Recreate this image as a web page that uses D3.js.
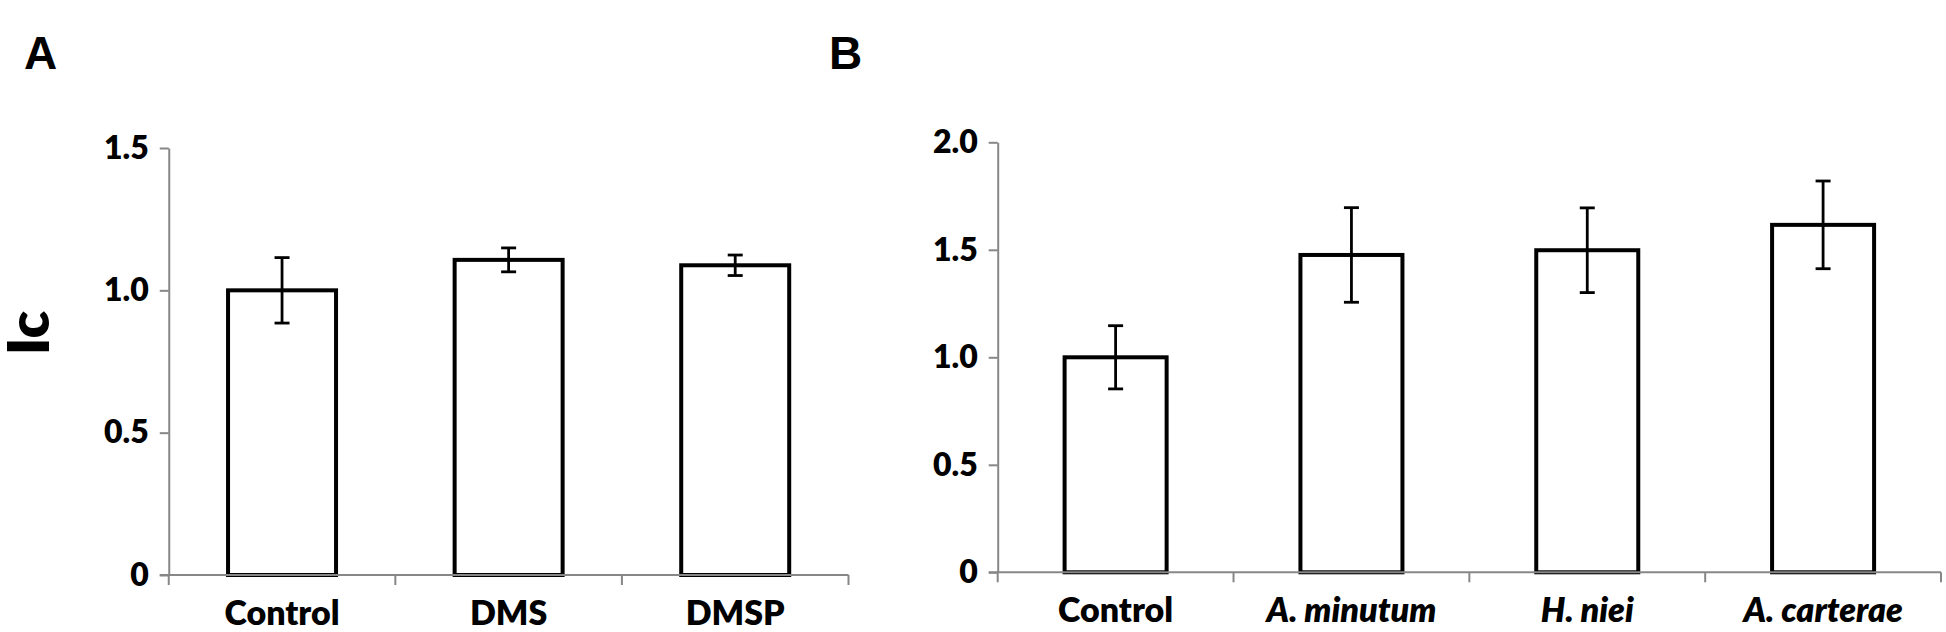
<!DOCTYPE html>
<html>
<head>
<meta charset="utf-8">
<script src="https://cdn.jsdelivr.net/npm/d3@7"></script>
<style>
  body { margin: 0; background: #fff; }
  svg { display: block; }
</style>
</head>
<body>
<div id="chart-container"></div>
<script>
// panel A data
const categoriesA = ["Control", "DMS", "DMSP"];
const valuesA = [1.0, 1.107, 1.088];
const errorsA = [0.115, 0.042, 0.036];
const ticksA = [0, 0.5, 1.0, 1.5];

// panel B data
const categoriesB = ["Control", "A. minutum", "H. niei", "A. carterae"];
const italicB = [false, true, true, true];
const valuesB = [1.0, 1.476, 1.498, 1.616];
const errorsB = [0.147, 0.22, 0.197, 0.204];
const ticksB = [0, 0.5, 1.0, 1.5, 2.0];

const chartWidth = 1946;
const chartHeight = 632;
const axisColor = "#878787";
const tickFont = "Lato, 'Open Sans', sans-serif";

const svg = d3.select("#chart-container").append("svg")
    .attr("width", chartWidth)
    .attr("height", chartHeight);

svg.append("rect")
    .attr("width", chartWidth)
    .attr("height", chartHeight)
    .attr("fill", "#fff");

/**
 * Draw one bar panel
 */
function drawPanel(opts) {
    const {categories, values, errors, ticks, italic, xRange, yRange, barRatio, letter, letterX} = opts;
    const pad = 1 - barRatio;

    const xScale = d3.scaleBand()
        .domain(categories)
        .range(xRange)
        .paddingInner(pad)
        .paddingOuter(pad / 2);

    const yScale = d3.scaleLinear()
        .domain([0, d3.max(ticks)])
        .range(yRange);

    const g = svg.append("g");

    // bars
    g.selectAll(".bar")
        .data(categories)
        .enter()
        .append("rect")
        .attr("class", "bar")
        .attr("x", d => xScale(d))
        .attr("y", (d, i) => yScale(values[i]))
        .attr("width", xScale.bandwidth())
        .attr("height", (d, i) => yScale(0) - yScale(values[i]))
        .attr("fill", "#fff")
        .attr("stroke", "#000")
        .attr("stroke-width", 4);

    // error bars
    const capW = 15;
    categories.forEach((c, i) => {
        const cx = xScale(c) + xScale.bandwidth() / 2;
        const top = yScale(values[i] + errors[i]);
        const bot = yScale(values[i] - errors[i]);
        const eg = g.append("g")
            .attr("stroke", "#000")
            .attr("stroke-width", 2.8);
        eg.append("line").attr("x1", cx).attr("x2", cx).attr("y1", top).attr("y2", bot);
        eg.append("line").attr("x1", cx - capW / 2).attr("x2", cx + capW / 2).attr("y1", top).attr("y2", top);
        eg.append("line").attr("x1", cx - capW / 2).attr("x2", cx + capW / 2).attr("y1", bot).attr("y2", bot);
    });

    // y axis
    const yAxis = d3.axisLeft(yScale)
        .tickValues(ticks)
        .tickSize(9)
        .tickSizeOuter(0)
        .tickPadding(11)
        .tickFormat(d => d === 0 ? "0" : d3.format(".1f")(d));

    const yg = g.append("g")
        .attr("transform", `translate(${xRange[0]},0)`)
        .call(yAxis);
    yg.select(".domain").attr("stroke", axisColor).attr("stroke-width", 2);
    yg.selectAll(".tick line").attr("stroke", axisColor).attr("stroke-width", 2);
    yg.selectAll(".tick text")
        .attr("fill", "#000")
        .style("font-family", tickFont)
        .style("font-weight", 800)
        .style("font-size", "32px");

    // x axis line and category boundary ticks
    const y0 = yScale(0);
    g.append("line")
        .attr("x1", xRange[0] - 9)
        .attr("x2", xRange[1])
        .attr("y1", y0)
        .attr("y2", y0)
        .attr("stroke", axisColor)
        .attr("stroke-width", 2);

    const bounds = d3.range(categories.length + 1).map(i => xRange[0] + i * xScale.step());
    g.selectAll(".xtick")
        .data(bounds)
        .enter()
        .append("line")
        .attr("class", "xtick")
        .attr("x1", d => d)
        .attr("x2", d => d)
        .attr("y1", y0)
        .attr("y2", y0 + 10)
        .attr("stroke", axisColor)
        .attr("stroke-width", 2);

    // x labels
    g.selectAll(".xlabel")
        .data(categories)
        .enter()
        .append("text")
        .attr("class", "xlabel")
        .attr("x", d => xScale(d) + xScale.bandwidth() / 2)
        .attr("y", y0 + 50)
        .attr("text-anchor", "middle")
        .style("font-family", tickFont)
        .style("font-weight", 800)
        .style("font-style", (d, i) => italic && italic[i] ? "italic" : "normal")
        .style("font-size", "34px")
        .text(d => d);

    // panel letter
    svg.append("text")
        .attr("x", letterX)
        .attr("y", 69)
        .style("font-family", "'Liberation Sans', Arial, sans-serif")
        .style("font-weight", 700)
        .style("font-size", "46px")
        .text(letter);

    return {xScale, yScale};
}

drawPanel({
    categories: categoriesA,
    values: valuesA,
    errors: errorsA,
    ticks: ticksA,
    xRange: [168.75, 848.5],
    yRange: [575, 148],
    barRatio: 108 / 226.6,
    letter: "A",
    letterX: 24
});

drawPanel({
    categories: categoriesB,
    values: valuesB,
    errors: errorsB,
    ticks: ticksB,
    italic: italicB,
    xRange: [997.7, 1941],
    yRange: [572.3, 142.3],
    barRatio: 102 / 235.8,
    letter: "B",
    letterX: 829
});

// y axis title
svg.append("text")
    .attr("transform", "translate(49,333) rotate(-90)")
    .attr("text-anchor", "middle")
    .style("font-family", tickFont)
    .style("font-weight", 800)
    .style("font-size", "57px")
    .text("Ic");
</script>
</body>
</html>
